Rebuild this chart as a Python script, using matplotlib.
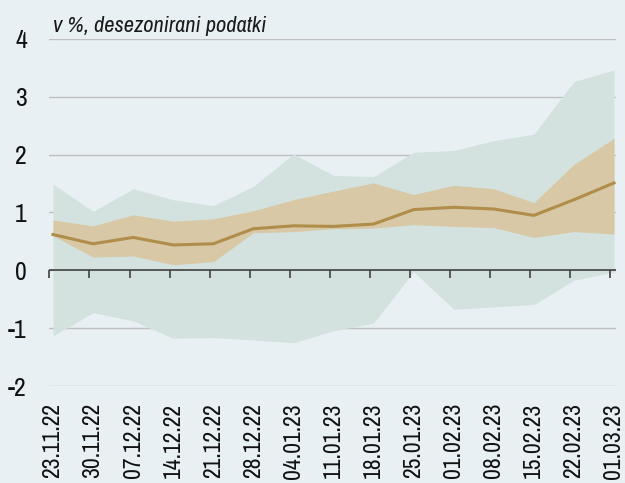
import numpy as np
import matplotlib
matplotlib.use("Agg")
import matplotlib.pyplot as plt
from matplotlib import font_manager

# Dane
dates = ["23.11.22", "30.11.22", "07.12.22", "14.12.22", "21.12.22", "28.12.22", "04.01.23",
         "11.01.23", "18.01.23", "25.01.23", "01.02.23", "08.02.23", "15.02.23", "22.02.23", "01.03.23"]
outer_high = [1.49, 1.02, 1.41, 1.22, 1.12, 1.45, 2.01, 1.64, 1.62, 2.04, 2.07, 2.24, 2.35, 3.26, 3.46]
outer_low = [-1.13, -0.73, -0.87, -1.17, -1.16, -1.20, -1.25, -1.04, -0.91, -0.02, -0.67, -0.63, -0.59, -0.17, -0.03]
inner_high = [0.87, 0.77, 0.96, 0.85, 0.89, 1.03, 1.22, 1.37, 1.51, 1.31, 1.47, 1.41, 1.17, 1.83, 2.28]
inner_low = [0.60, 0.23, 0.25, 0.10, 0.15, 0.65, 0.67, 0.72, 0.73, 0.79, 0.76, 0.74, 0.57, 0.67, 0.63]
median = [0.62, 0.46, 0.57, 0.44, 0.46, 0.72, 0.77, 0.76, 0.80, 1.05, 1.09, 1.06, 0.95, 1.22, 1.51]

BG = "#E8F0F4"

# wezmi prvo ozko pisavo, ki je na voljo
names = {f.name for f in font_manager.fontManager.ttflist}
candidates = ["Liberation Sans Narrow", "Arial Narrow", "Archivo Narrow", "Roboto Condensed",
              "PT Sans Narrow", "Pragati Narrow", "Liberation Sans"]
font = next((c for c in candidates if c in names), "DejaVu Sans")
plt.rcParams["font.family"] = [font, "DejaVu Sans"]
plt.rcParams["axes.unicode_minus"] = False

fig = plt.figure(figsize=(6.25, 4.83), dpi=100, facecolor=BG)
ax = fig.add_axes([0.0784, 0.2002, 0.9072, 0.7197], facecolor=BG)

x = np.arange(len(dates))
ax.fill_between(x, outer_low, outer_high, color="#D3E2DE", lw=0, zorder=2)
ax.fill_between(x, inner_low, inner_high, color="#D8C8A5", lw=0, zorder=3)
ax.plot(x, median, color="#B08D4A", lw=2.2, zorder=4)

ax.set_ylim(-2, 4)
ax.set_xlim(-0.1, 14.05)
ax.set_yticks(range(-2, 5))
ax.yaxis.grid(True, color="#BFBFBF", lw=1)
ax.set_axisbelow(True)
for s in ax.spines.values():
    s.set_visible(False)
ax.tick_params(axis="y", length=0, labelsize=18.5, pad=16, labelcolor="#111111")

ax.set_xticks(x)
ax.set_xticklabels(dates, rotation=90, va="top", ha="center")
ax.tick_params(axis="x", length=0, labelsize=17, pad=12, labelcolor="#111111")

# os na nicli s kljukicami
ax.axhline(0, color="#404040", lw=1.2, zorder=5)
sec = ax.secondary_xaxis(1 / 3)
sec.set_zorder(6)
sec.set_xticks(x - 0.09)
sec.set_xticklabels([""] * len(x))
sec.tick_params(axis="x", direction="out", length=6, color="#404040", width=1.2)
sec.spines["bottom"].set_visible(False)

fig.text(0.085, 1 - 31.5 / 483, "v %, desezonirani podatki", fontsize=16.2, style="italic",
         va="baseline", color="#1a1a1a")

fig.savefig("out.png", dpi=100, facecolor=BG)
